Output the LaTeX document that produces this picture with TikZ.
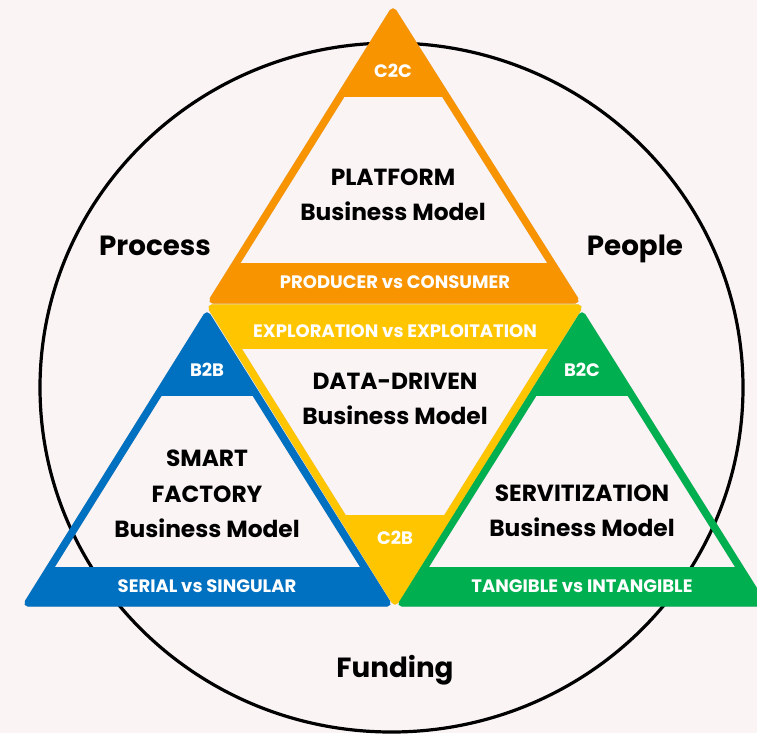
\documentclass[tikz,border=0pt]{standalone}
\usepackage{fontspec}
\setmainfont{Poppins}
\usetikzlibrary{shapes.geometric}
\definecolor{bgc}{RGB}{251,244,245}
\definecolor{corange}{RGB}{247,148,0}
\definecolor{cyellow}{RGB}{255,198,0}
\definecolor{cblue}{RGB}{0,112,192}
\definecolor{cgreen}{RGB}{0,176,80}
\tikzset{
  outline/.style={line width=5.6pt, line join=round},
  shadowline/.style={line width=5.6pt, line join=round, black, opacity=0.18},
  bevel/.style={line width=0.9pt, line join=round, black, opacity=0.14},
  bandtext/.style={text=white, font=\bfseries\fontsize{13.5}{16}\selectfont, inner sep=0pt},
  titletext/.style={text=black, font=\bfseries\fontsize{17.5}{26.6}\selectfont, align=center, inner sep=0pt},
  sidetext/.style={text=black, font=\bfseries\fontsize{20.8}{26}\selectfont, inner sep=0pt, anchor=base},
}
\begin{document}
\begin{tikzpicture}[x=0.75pt, y=-0.75pt]
\useasboundingbox (0,0) rectangle (757,733);
\fill[bgc] (0,0) rectangle (757,733);

% outer circle
\node[draw=black, line width=2.4pt, ellipse, minimum width=527.25pt, minimum height=516.75pt, inner sep=0pt] (ring) at (391.5,387.5) {};

% coordinates
\coordinate (oA) at (393,12);  \coordinate (oL) at (213,300); \coordinate (oR) at (575,300);
\coordinate (bA) at (207,316); \coordinate (bL) at (28,603);  \coordinate (bR) at (387,603);
\coordinate (gA) at (582,316); \coordinate (gL) at (402,603); \coordinate (gR) at (762,603);
\coordinate (yL) at (212,308); \coordinate (yR) at (578,308); \coordinate (yB) at (395,601);

% shadows
\draw[shadowline, shift={(1.5,2.5)}] (oA) -- (oL) -- (oR) -- cycle;
\draw[shadowline, shift={(1.5,2.5)}] (bA) -- (bL) -- (bR) -- cycle;
\draw[shadowline, shift={(1.5,2.5)}] (gA) -- (gL) -- (gR) -- cycle;
\draw[shadowline, shift={(1.5,2.5)}] (yL) -- (yR) -- (yB) -- cycle;

% orange (platform)
\begin{scope}
  \clip (oA) -- (oL) -- (oR) -- cycle;
  \fill[corange] (0,0) rectangle (757,97);
  \fill[corange] (0,263) rectangle (757,310);
\end{scope}
\draw[bevel, scale around={0.95:(394,200)}] (oA) -- (oL) -- (oR) -- cycle;
\draw[outline, corange] (oA) -- (oL) -- (oR) -- cycle;

% blue (smart factory)
\begin{scope}
  \clip (bA) -- (bL) -- (bR) -- cycle;
  \fill[cblue] (0,300) rectangle (757,396);
  \fill[cblue] (0,567) rectangle (757,610);
\end{scope}
\draw[bevel, scale around={0.95:(207.5,503.5)}] (bA) -- (bL) -- (bR) -- cycle;
\draw[outline, cblue] (bA) -- (bL) -- (bR) -- cycle;

% green (servitization)
\begin{scope}
  \clip (gA) -- (gL) -- (gR) -- cycle;
  \fill[cgreen] (0,300) rectangle (770,396);
  \fill[cgreen] (0,567) rectangle (770,610);
\end{scope}
\draw[bevel, scale around={0.95:(582,503.5)}] (gA) -- (gL) -- (gR) -- cycle;
\draw[outline, cgreen] (gA) -- (gL) -- (gR) -- cycle;

% yellow (data-driven)
\begin{scope}
  \clip (yL) -- (yR) -- (yB) -- cycle;
  \fill[cyellow] (0,300) rectangle (757,349);
  \fill[cyellow] (0,515) rectangle (757,610);
\end{scope}
\draw[bevel, scale around={0.95:(395,409.5)}] (yL) -- (yR) -- (yB) -- cycle;
\draw[outline, cyellow] (yL) -- (yR) -- (yB) -- cycle;

% texts
\node[bandtext] (c2c) at (393,71) {C2C};
\node[titletext] (platform) at (393,195) {PLATFORM\\Business Model};
\node[bandtext] (prodcons) at (395,282) {PRODUCER vs CONSUMER};

\node[bandtext] (explor) at (395,331) {EXPLORATION vs EXPLOITATION};
\node[titletext] (datadriven) at (395,399) {DATA-DRIVEN\\Business Model};
\node[bandtext] (c2b) at (395,538) {C2B};

\node[bandtext] (b2b) at (207,370) {B2B};
\node[titletext] (smart) at (207,494) {SMART\\FACTORY\\Business Model};
\node[bandtext] (serial) at (207,586) {SERIAL vs SINGULAR};

\node[bandtext] (b2c) at (582,370) {B2C};
\node[titletext] (servit) at (582,511) {SERVITIZATION\\Business Model};
\node[bandtext] (tangible) at (582,586) {TANGIBLE vs INTANGIBLE};

\node[sidetext] (process) at (155,255) {Process};
\node[sidetext] (people) at (635,255) {People};
\node[sidetext] (funding) at (395,677) {Funding};
\end{tikzpicture}
\end{document}
